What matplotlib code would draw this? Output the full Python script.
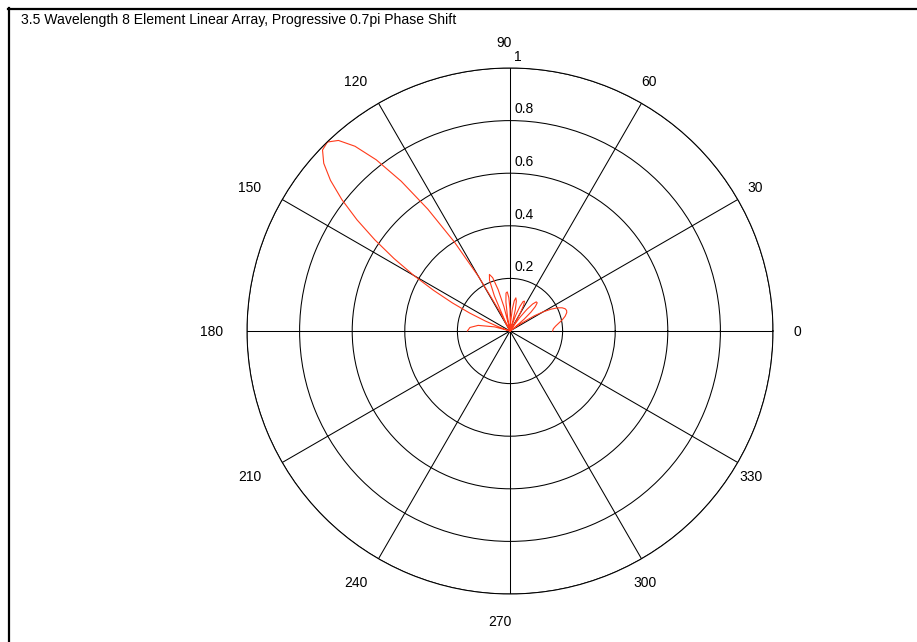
import numpy as np
import matplotlib
matplotlib.use('Agg')
import matplotlib.pyplot as plt
from matplotlib.lines import Line2D

plt.rcParams['font.family'] = ['Liberation Sans', 'DejaVu Sans']

#==============================================================================
# Array factor samples (angle in degrees, normalised magnitude)
#==============================================================================
title = '3.5 Wavelength 8 Element Linear Array, Progressive 0.7pi Phase Shift'

angleDeg = [0, 3, 6, 9, 12, 15, 18, 20, 22, 24, 26, 28, 30, 32, 35, 36.9,
            38, 40, 42, 44, 46, 48, 50, 52, 54, 56, 56.6,
            58, 60, 62, 64, 66, 68, 70, 72, 72.5,
            74, 76, 78, 80, 82, 84, 86, 87.1,
            88, 90, 92, 94, 96, 98, 100, 101.5,
            102, 104, 106, 108, 110, 112, 114, 116, 116.7,
            118, 120, 122, 124, 126, 128, 130, 132, 134, 136, 138, 140,
            142, 144, 146, 148, 150, 152, 154, 156, 158, 160, 161.8,
            165, 170, 175, 180]

gain = [0.162, 0.165, 0.174, 0.187, 0.203, 0.217, 0.227, 0.229, 0.226, 0.217,
        0.201, 0.177, 0.146, 0.109, 0.044, 0.0,
        0.026, 0.070, 0.107, 0.134, 0.149, 0.149, 0.134, 0.104, 0.064, 0.016, 0.0,
        0.034, 0.077, 0.110, 0.126, 0.123, 0.101, 0.063, 0.014, 0.0,
        0.038, 0.084, 0.116, 0.128, 0.116, 0.083, 0.033, 0.0,
        0.026, 0.083, 0.127, 0.149, 0.145, 0.112, 0.055, 0.0,
        0.018, 0.095, 0.164, 0.213, 0.229, 0.208, 0.146, 0.046, 0.0,
        0.086, 0.238, 0.399, 0.559, 0.704, 0.826, 0.917, 0.975, 0.999, 0.991,
        0.953, 0.891, 0.811, 0.719, 0.620, 0.520, 0.422, 0.329, 0.244, 0.168,
        0.101, 0.044, 0.0,
        0.061, 0.123, 0.153, 0.162]

angleTicks = list(range(0, 360, 30))
radialTicks = [0.2, 0.4, 0.6, 0.8, 1.0]
radialLabels = ['0.2', '0.4', '0.6', '0.8', '1']

#==============================================================================
# Polar plot
#==============================================================================
fig = plt.figure(figsize = (9.17, 6.42), dpi = 100)
ax = fig.add_axes([247/917, 48/642, 526/917, 526/642], projection = 'polar')

ax.plot(np.deg2rad(angleDeg), gain, color = '#ff3a1a', linewidth = 0.8)

ax.set_ylim(0, 1)
ax.set_xticks(np.deg2rad(angleTicks))
ax.set_yticks(radialTicks)
ax.set_xticklabels([])
ax.set_yticklabels([])
ax.tick_params(length = 0)
ax.grid(True, color = 'k', linewidth = 0.75, linestyle = '-')
ax.spines['polar'].set_color('k')
ax.spines['polar'].set_linewidth(0.75)

# angle labels outside the outer ring, right edge anchored at 1.1*rmax
for a in angleTicks:
    ax.annotate(str(a), xy = (np.deg2rad(a), 1.1), xytext = (2, -1.5),
                textcoords = 'offset pixels', ha = 'right', va = 'center',
                fontsize = 10, annotation_clip = False)

# magnitude labels just right of the 90 degree spoke
for r, lab in zip(radialTicks, radialLabels):
    ax.annotate(lab, xy = (np.pi/2, r), xytext = (3, 3),
                textcoords = 'offset points', ha = 'left', va = 'bottom',
                fontsize = 10)

#==============================================================================
# Title and frame
#==============================================================================
fig.text(21/917, 1 - 20/642, title, ha = 'left', va = 'center', fontsize = 10.1)
fig.add_artist(Line2D([8/917, 1], [1 - 8.7/642, 1 - 8.7/642],
                      color = 'k', linewidth = 1.6, transform = fig.transFigure))
fig.add_artist(Line2D([8.7/917, 8.7/917], [0, 1 - 8/642],
                      color = 'k', linewidth = 1.6, transform = fig.transFigure))

fig.savefig('out.png', dpi = 100)
